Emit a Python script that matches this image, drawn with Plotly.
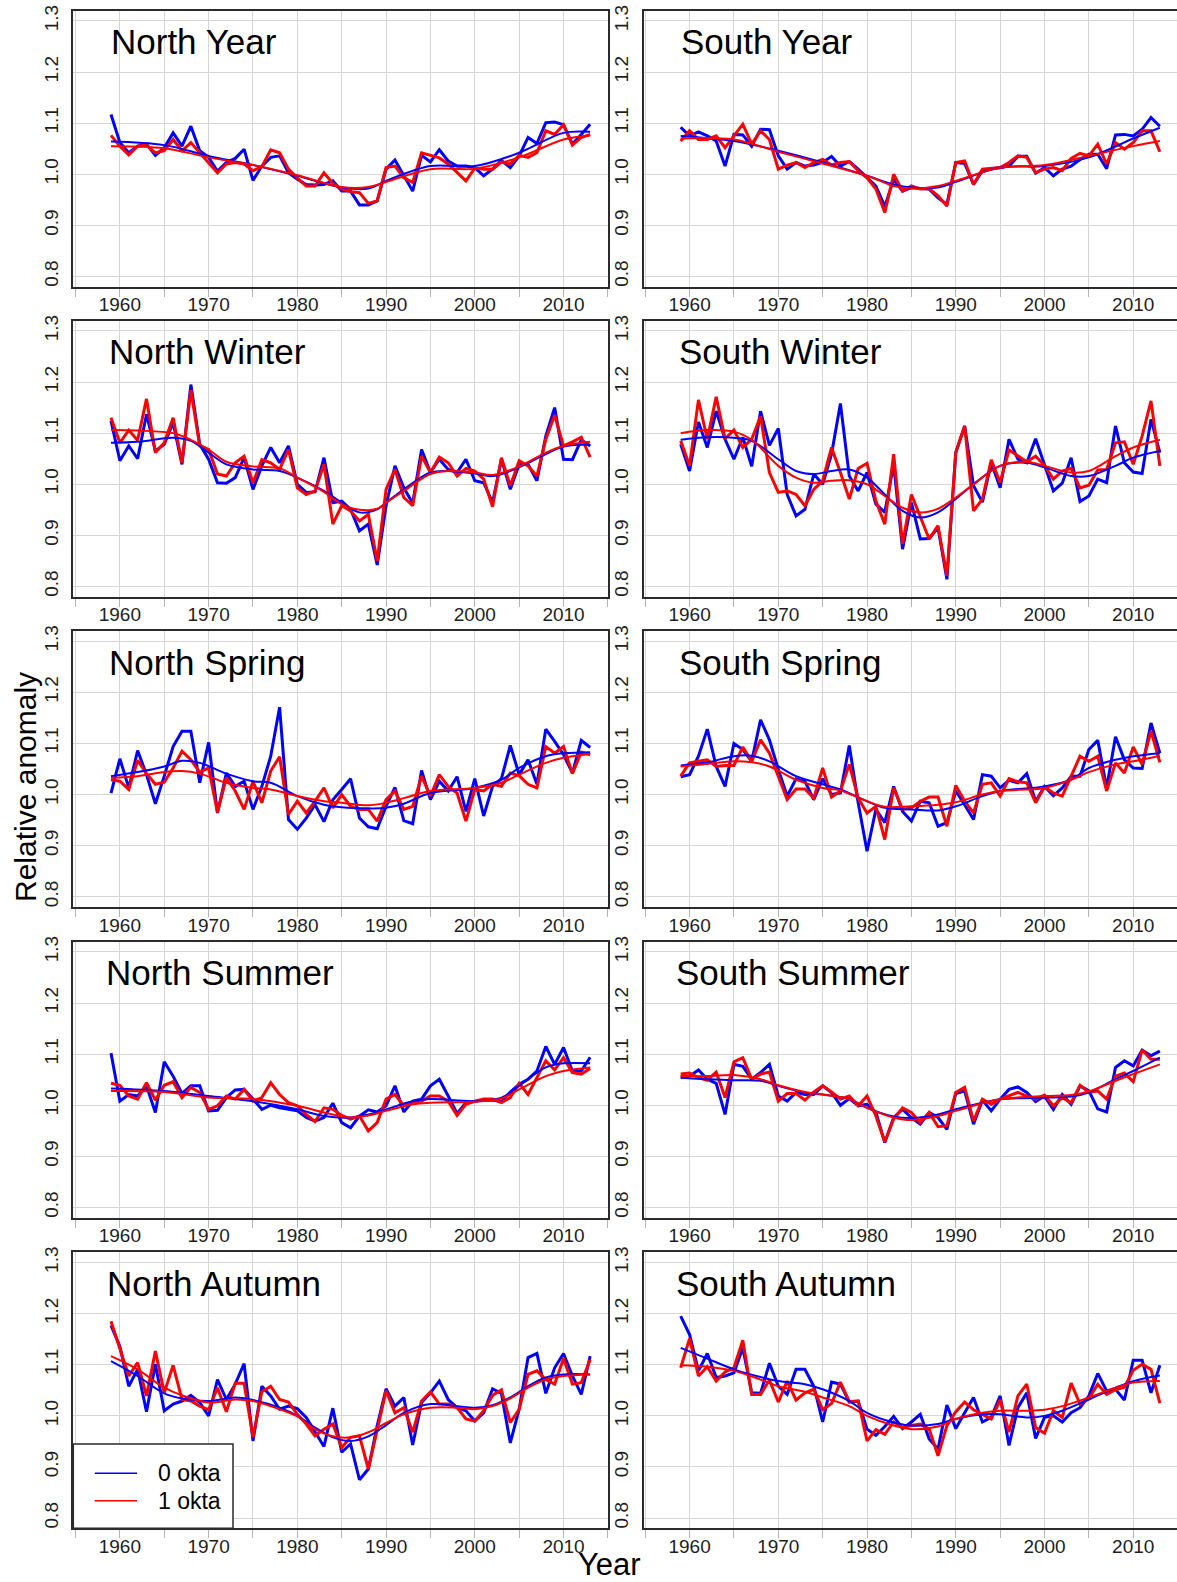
import plotly.graph_objects as go

W, H = 1177, 1582
FONT = "Liberation Sans, Arial, sans-serif"
BLUE = "#0000FF"
RED = "#FF0000"
GRID = "#d6d6d6"
TICK = "#b4b4b4"
FRAME = "#2b2b2b"

years = list(range(1959, 2014))
series_names = ["0 okta", "1 okta"]

# ---- North Year ----
ny_0 = [1.117, 1.062, 1.042, 1.055, 1.059, 1.037, 1.052, 1.081, 1.055, 1.094,
        1.046, 1.033, 1.006, 1.023, 1.031, 1.049, 0.988, 1.016, 1.033, 1.036,
        1.003, 0.990, 0.980, 0.979, 0.980, 0.987, 0.967, 0.967, 0.940, 0.940,
        0.948, 1.010, 1.028, 0.998, 0.967, 1.037, 1.024, 1.048, 1.026, 1.016,
        1.016, 1.013, 0.997, 1.010, 1.027, 1.013, 1.036, 1.072, 1.060, 1.101,
        1.102, 1.097, 1.059, 1.078, 1.098]
ny_1 = [1.076, 1.055, 1.038, 1.055, 1.057, 1.042, 1.046, 1.068, 1.046, 1.062,
        1.042, 1.023, 1.003, 1.020, 1.023, 1.020, 1.007, 1.015, 1.048, 1.042,
        1.010, 0.993, 0.977, 0.977, 1.003, 0.982, 0.971, 0.966, 0.964, 0.943,
        0.948, 1.013, 1.016, 0.993, 0.984, 1.042, 1.037, 1.032, 1.020, 1.003,
        0.987, 1.012, 1.010, 1.010, 1.024, 1.020, 1.037, 1.033, 1.042, 1.085,
        1.078, 1.097, 1.057, 1.072, 1.078]
ny_fit_years = [1959, 1965, 1970, 1975, 1980, 1985, 1988, 1990, 1995, 2000, 2005, 2010, 2013]
ny_fit_0 = [1.064, 1.057, 1.036, 1.018, 0.997, 0.974, 0.972, 0.987, 1.016, 1.016, 1.042, 1.081, 1.083]
ny_fit_1 = [1.055, 1.051, 1.033, 1.018, 0.998, 0.975, 0.975, 0.985, 1.010, 1.011, 1.033, 1.068, 1.076]

# ---- South Year ----
sy_0 = [1.092, 1.075, 1.083, 1.075, 1.065, 1.016, 1.078, 1.077, 1.055, 1.088,
        1.087, 1.036, 1.010, 1.023, 1.016, 1.018, 1.023, 1.035, 1.016, 1.025,
        1.010, 0.993, 0.977, 0.937, 0.990, 0.967, 0.974, 0.972, 0.971, 0.954,
        0.941, 1.023, 1.021, 0.980, 1.007, 1.010, 1.013, 1.016, 1.035, 1.035,
        1.002, 1.013, 0.997, 1.010, 1.016, 1.029, 1.039, 1.039, 1.011, 1.077,
        1.078, 1.075, 1.088, 1.111, 1.094]
sy_1 = [1.065, 1.085, 1.068, 1.068, 1.075, 1.052, 1.075, 1.098, 1.059, 1.085,
        1.068, 1.010, 1.018, 1.023, 1.013, 1.023, 1.029, 1.018, 1.023, 1.025,
        1.007, 0.993, 0.971, 0.925, 1.000, 0.967, 0.977, 0.971, 0.972, 0.958,
        0.938, 1.023, 1.026, 0.980, 1.010, 1.011, 1.013, 1.023, 1.036, 1.033,
        1.003, 1.010, 1.013, 1.007, 1.031, 1.041, 1.036, 1.059, 1.020, 1.062,
        1.049, 1.062, 1.085, 1.085, 1.044]
sy_fit_years = [1959, 1965, 1970, 1975, 1980, 1983, 1985, 1988, 1990, 1995, 2000, 2005, 2010, 2013]
sy_fit_0 = [1.075, 1.065, 1.046, 1.023, 0.997, 0.980, 0.974, 0.974, 0.985, 1.013, 1.016, 1.033, 1.070, 1.091]
sy_fit_1 = [1.070, 1.068, 1.044, 1.021, 0.997, 0.977, 0.972, 0.977, 0.987, 1.013, 1.018, 1.036, 1.055, 1.065]

# ---- North Winter ----
nw_0 = [1.124, 1.046, 1.075, 1.050, 1.137, 1.065, 1.078, 1.120, 1.039, 1.195,
        1.078, 1.049, 1.003, 1.002, 1.013, 1.052, 0.990, 1.036, 1.072, 1.042,
        1.075, 1.000, 0.984, 0.985, 1.052, 0.964, 0.967, 0.951, 0.909, 0.922,
        0.842, 0.958, 1.036, 0.993, 0.963, 1.068, 1.023, 1.049, 1.029, 1.023,
        1.049, 1.007, 1.003, 0.964, 1.049, 0.990, 1.039, 1.039, 1.007, 1.094,
        1.150, 1.049, 1.048, 1.087, 1.075]
nw_1 = [1.130, 1.081, 1.106, 1.086, 1.167, 1.062, 1.081, 1.130, 1.042, 1.184,
        1.075, 1.068, 1.020, 1.016, 1.042, 1.055, 1.003, 1.048, 1.042, 1.029,
        1.068, 0.993, 0.980, 0.987, 1.039, 0.922, 0.958, 0.948, 0.928, 0.941,
        0.850, 0.990, 1.029, 0.974, 0.958, 1.055, 1.023, 1.053, 1.042, 1.016,
        1.031, 1.026, 1.010, 0.956, 1.052, 0.997, 1.046, 1.036, 1.016, 1.088,
        1.135, 1.075, 1.083, 1.092, 1.053]
nw_fit_years = [1959, 1962, 1966, 1968, 1970, 1972, 1975, 1978, 1980, 1983, 1985, 1987,
                1989, 1990, 1992, 1995, 1997, 2000, 2002, 2005, 2008, 2010, 2013]
nw_fit_0 = [1.081, 1.083, 1.091, 1.085, 1.062, 1.039, 1.029, 1.026, 1.013, 0.987, 0.964, 0.945,
            0.951, 0.964, 0.990, 1.023, 1.026, 1.021, 1.016, 1.033, 1.059, 1.074, 1.078]
nw_fit_1 = [1.106, 1.105, 1.100, 1.087, 1.068, 1.044, 1.035, 1.031, 1.013, 0.985, 0.961, 0.950,
            0.952, 0.964, 0.987, 1.020, 1.026, 1.023, 1.018, 1.035, 1.062, 1.075, 1.083]

# ---- South Winter ----
sw_0 = [1.078, 1.026, 1.122, 1.072, 1.143, 1.088, 1.049, 1.092, 1.035, 1.143,
        1.076, 1.109, 0.980, 0.938, 0.951, 1.020, 1.000, 1.059, 1.158, 1.016,
        0.987, 1.023, 0.961, 0.945, 1.039, 0.873, 0.964, 0.893, 0.894, 0.915,
        0.814, 1.062, 1.114, 0.997, 0.965, 1.042, 0.993, 1.088, 1.049, 1.042,
        1.089, 1.036, 0.987, 1.002, 1.052, 0.966, 0.977, 1.010, 1.003, 1.114,
        1.042, 1.024, 1.021, 1.127, 1.062]
sw_1 = [1.085, 1.036, 1.165, 1.088, 1.171, 1.089, 1.106, 1.072, 1.088, 1.133,
        1.023, 0.984, 0.987, 0.980, 0.958, 0.990, 1.007, 1.072, 1.023, 0.971,
        1.031, 1.041, 0.967, 0.922, 1.059, 0.883, 0.980, 0.938, 0.893, 0.919,
        0.821, 1.062, 1.114, 0.948, 0.971, 1.048, 1.003, 1.067, 1.055, 1.044,
        1.055, 1.037, 1.010, 1.026, 1.031, 0.993, 0.998, 1.028, 1.029, 1.081,
        1.083, 1.039, 1.094, 1.163, 1.036]
sw_fit_years = [1959, 1962, 1965, 1967, 1970, 1972, 1974, 1976, 1978, 1980, 1982, 1984,
                1986, 1988, 1990, 1992, 1995, 1998, 2000, 2003, 2005, 2008, 2010, 2013]
sw_fit_0 = [1.087, 1.092, 1.091, 1.085, 1.049, 1.026, 1.020, 1.026, 1.029, 1.013, 0.980, 0.948,
            0.935, 0.945, 0.971, 1.000, 1.036, 1.042, 1.033, 1.016, 1.016, 1.036, 1.052, 1.065]
sw_fit_1 = [1.100, 1.106, 1.103, 1.087, 1.036, 1.013, 1.003, 1.007, 1.008, 1.000, 0.977, 0.954,
            0.945, 0.952, 0.974, 1.000, 1.036, 1.044, 1.036, 1.023, 1.026, 1.055, 1.072, 1.087]

# ---- North Spring ----
ns_0 = [1.003, 1.070, 1.013, 1.086, 1.039, 0.982, 1.036, 1.094, 1.124, 1.124,
        1.023, 1.102, 0.964, 1.042, 1.016, 1.026, 0.971, 1.016, 1.075, 1.171,
        0.951, 0.932, 0.954, 0.980, 0.947, 0.990, 1.010, 1.031, 0.954, 0.937,
        0.933, 0.977, 1.014, 0.949, 0.943, 1.047, 0.990, 1.026, 1.007, 1.035,
        0.967, 1.031, 0.958, 1.016, 1.031, 1.096, 1.039, 1.068, 1.020, 1.128,
        1.104, 1.078, 1.042, 1.106, 1.092]
ns_1 = [1.029, 1.026, 1.010, 1.067, 1.041, 1.020, 1.024, 1.052, 1.085, 1.068,
        1.044, 1.052, 0.965, 1.033, 1.007, 0.971, 1.026, 0.984, 1.046, 1.074,
        0.961, 0.987, 0.964, 0.987, 1.013, 0.974, 1.000, 0.977, 0.971, 0.971,
        0.948, 0.990, 1.007, 0.971, 0.977, 1.036, 0.997, 1.039, 1.016, 1.003,
        0.948, 1.010, 1.007, 1.020, 1.016, 1.042, 1.037, 1.020, 1.013, 1.094,
        1.081, 1.094, 1.041, 1.083, 1.078]
ns_fit_years = [1959, 1962, 1965, 1967, 1969, 1972, 1975, 1977, 1980, 1983, 1985,
                1988, 1990, 1992, 1995, 2000, 2003, 2005, 2008, 2010, 2013]
ns_fit_0 = [1.036, 1.044, 1.055, 1.066, 1.062, 1.041, 1.026, 1.023, 0.997, 0.980, 0.975,
            0.973, 0.974, 0.982, 1.003, 1.013, 1.029, 1.052, 1.075, 1.081, 1.083]
ns_fit_1 = [1.033, 1.036, 1.044, 1.046, 1.041, 1.023, 1.013, 1.010, 0.997, 0.987, 0.984,
            0.979, 0.984, 0.993, 1.007, 1.013, 1.023, 1.039, 1.062, 1.072, 1.080]

# ---- South Spring ----
ssp_0 = [1.035, 1.039, 1.075, 1.128, 1.055, 1.016, 1.100, 1.088, 1.065, 1.146,
         1.107, 1.049, 0.997, 1.031, 1.026, 0.990, 1.031, 1.000, 1.003, 1.096,
         0.984, 0.889, 0.971, 0.945, 1.016, 0.967, 0.948, 0.987, 0.984, 0.938,
         0.945, 1.007, 0.980, 0.951, 1.039, 1.036, 1.013, 1.028, 1.023, 1.041,
         0.987, 1.016, 0.998, 1.013, 1.036, 1.036, 1.088, 1.106, 1.013, 1.113,
         1.068, 1.052, 1.051, 1.140, 1.081]
ssp_1 = [1.036, 1.062, 1.065, 1.068, 1.055, 1.057, 1.057, 1.093, 1.065, 1.107,
         1.081, 1.036, 0.990, 1.011, 1.011, 0.993, 1.052, 0.995, 1.007, 1.059,
         0.993, 0.964, 0.977, 0.912, 1.013, 0.971, 0.974, 0.987, 0.995, 0.995,
         0.938, 1.018, 0.987, 0.964, 1.020, 1.023, 0.997, 1.031, 1.025, 1.023,
         0.984, 1.015, 1.003, 0.997, 1.036, 1.075, 1.065, 1.075, 1.007, 1.062,
         1.042, 1.093, 1.059, 1.124, 1.063]
ssp_fit_years = [1959, 1962, 1965, 1967, 1969, 1972, 1975, 1977, 1980, 1982, 1985,
                 1988, 1990, 1993, 1995, 2000, 2003, 2005, 2008, 2010, 2013]
ssp_fit_0 = [1.057, 1.063, 1.075, 1.076, 1.065, 1.036, 1.020, 1.010, 0.987, 0.974, 0.971,
             0.969, 0.977, 0.997, 1.007, 1.016, 1.029, 1.052, 1.068, 1.075, 1.081]
ssp_fit_1 = [1.055, 1.060, 1.065, 1.063, 1.055, 1.029, 1.013, 1.008, 0.987, 0.976, 0.977,
             0.980, 0.985, 1.000, 1.007, 1.013, 1.029, 1.044, 1.059, 1.065, 1.076]

# ---- North Summer ----
nsu_0 = [1.102, 1.008, 1.021, 1.018, 1.038, 0.986, 1.085, 1.057, 1.023, 1.038,
         1.038, 0.989, 0.990, 1.015, 1.030, 1.031, 1.012, 0.992, 1.000, 0.995,
         0.992, 0.989, 0.976, 0.969, 0.976, 1.004, 0.966, 0.956, 0.979, 0.991,
         0.987, 0.999, 1.038, 0.987, 1.008, 1.012, 1.038, 1.051, 1.018, 0.984,
         1.005, 1.008, 1.010, 1.010, 1.007, 1.026, 1.041, 1.051, 1.067, 1.115,
         1.080, 1.113, 1.067, 1.067, 1.094]
nsu_1 = [1.043, 1.039, 1.018, 1.012, 1.044, 1.010, 1.039, 1.046, 1.015, 1.035,
         1.025, 0.992, 0.999, 1.018, 1.012, 1.031, 1.008, 1.015, 1.044, 1.021,
         1.005, 0.999, 0.982, 0.968, 0.995, 0.992, 0.980, 0.973, 0.979, 0.950,
         0.966, 1.012, 1.021, 0.999, 1.007, 1.008, 1.018, 1.018, 1.008, 0.980,
         1.002, 1.008, 1.012, 1.012, 1.005, 1.015, 1.043, 1.021, 1.054, 1.087,
         1.069, 1.093, 1.064, 1.061, 1.072]
nsu_fit_years = [1959, 1965, 1970, 1975, 1980, 1983, 1986, 1988, 1990, 1993, 1995,
                 2000, 2003, 2005, 2008, 2010, 2013]
nsu_fit_0 = [1.033, 1.028, 1.018, 1.008, 0.992, 0.979, 0.976, 0.982, 0.992, 1.008, 1.012,
             1.008, 1.015, 1.038, 1.074, 1.082, 1.082]
nsu_fit_1 = [1.028, 1.026, 1.015, 1.012, 0.999, 0.986, 0.976, 0.980, 0.989, 1.002, 1.005,
             1.007, 1.013, 1.031, 1.057, 1.067, 1.074]

# ---- South Summer ----
ssu_0 = [1.055, 1.057, 1.069, 1.051, 1.043, 0.982, 1.080, 1.076, 1.051, 1.064,
         1.080, 1.018, 1.008, 1.025, 1.021, 1.021, 1.038, 1.025, 1.000, 1.013,
         0.999, 1.002, 0.986, 0.927, 0.976, 0.992, 0.976, 0.963, 0.986, 0.976,
         0.953, 1.023, 1.028, 0.963, 1.010, 0.989, 1.012, 1.031, 1.036, 1.025,
         1.007, 1.018, 0.992, 1.021, 1.002, 1.038, 1.028, 0.993, 0.987, 1.074,
         1.087, 1.077, 1.108, 1.097, 1.106]
ssu_1 = [1.061, 1.063, 1.054, 1.049, 1.065, 1.015, 1.085, 1.093, 1.051, 1.061,
         1.065, 1.008, 1.023, 1.023, 1.010, 1.026, 1.038, 1.026, 1.012, 1.018,
         0.999, 1.018, 0.979, 0.928, 0.973, 0.995, 0.986, 0.966, 0.986, 0.958,
         0.960, 1.025, 1.035, 0.969, 1.012, 1.002, 1.012, 1.018, 1.025, 1.018,
         1.012, 1.020, 0.999, 1.015, 1.005, 1.039, 1.025, 1.028, 1.012, 1.057,
         1.063, 1.046, 1.108, 1.090, 1.090]
ssu_fit_years = [1959, 1962, 1965, 1968, 1970, 1973, 1975, 1978, 1980, 1983, 1985,
                 1988, 1990, 1993, 1995, 2000, 2003, 2005, 2008, 2010, 2013]
ssu_fit_0 = [1.054, 1.051, 1.049, 1.048, 1.038, 1.025, 1.021, 1.012, 0.995, 0.978, 0.975,
             0.982, 0.992, 1.005, 1.012, 1.015, 1.017, 1.025, 1.051, 1.067, 1.093]
ssu_fit_1 = [1.057, 1.057, 1.059, 1.051, 1.039, 1.026, 1.021, 1.012, 0.995, 0.976, 0.971,
             0.979, 0.989, 1.004, 1.012, 1.018, 1.020, 1.027, 1.048, 1.061, 1.080]

# ---- North Autumn ----
na_0 = [1.177, 1.136, 1.058, 1.091, 1.008, 1.101, 1.010, 1.023, 1.029, 1.040,
        1.026, 1.000, 1.071, 1.032, 1.062, 1.102, 0.951, 1.058, 1.039, 1.013,
        1.019, 1.014, 0.997, 0.968, 0.940, 1.015, 0.929, 0.945, 0.875, 0.896,
        0.981, 1.053, 1.019, 1.036, 0.943, 1.026, 1.045, 1.068, 1.032, 1.016,
        1.010, 0.990, 1.006, 1.053, 1.044, 0.947, 1.013, 1.114, 1.122, 1.044,
        1.094, 1.122, 1.078, 1.042, 1.117]
na_1 = [1.185, 1.130, 1.078, 1.104, 1.039, 1.127, 1.045, 1.099, 1.032, 1.029,
        1.019, 1.012, 1.055, 1.008, 1.064, 1.064, 0.958, 1.047, 1.058, 1.032,
        1.027, 1.003, 0.984, 0.961, 0.974, 0.984, 0.938, 0.958, 0.961, 0.896,
        0.974, 1.049, 1.006, 1.016, 0.968, 1.029, 1.047, 1.023, 1.023, 1.016,
        0.994, 0.990, 1.010, 1.040, 1.051, 0.987, 1.013, 1.081, 1.088, 1.071,
        1.062, 1.112, 1.062, 1.065, 1.110]
na_fit_years = [1959, 1962, 1965, 1967, 1970, 1973, 1975, 1978, 1980, 1982, 1984, 1986,
                1988, 1990, 1992, 1995, 1998, 2000, 2002, 2004, 2006, 2008, 2010, 2013]
na_fit_0 = [1.107, 1.078, 1.044, 1.034, 1.029, 1.036, 1.031, 1.016, 1.000, 0.977, 0.958, 0.951,
            0.960, 0.982, 1.006, 1.023, 1.019, 1.016, 1.021, 1.036, 1.058, 1.075, 1.081, 1.081]
na_fit_1 = [1.117, 1.091, 1.055, 1.040, 1.026, 1.032, 1.029, 1.013, 0.999, 0.974, 0.960, 0.958,
            0.968, 0.986, 1.003, 1.016, 1.016, 1.013, 1.019, 1.034, 1.055, 1.071, 1.078, 1.081]

# ---- South Autumn ----
sa_0 = [1.195, 1.159, 1.088, 1.122, 1.075, 1.078, 1.084, 1.133, 1.045, 1.044,
        1.103, 1.058, 1.042, 1.091, 1.091, 1.058, 0.988, 1.066, 1.062, 1.027,
        1.029, 0.974, 0.962, 0.979, 0.999, 0.975, 0.988, 1.003, 0.955, 0.935,
        1.021, 0.975, 1.006, 1.036, 0.988, 0.997, 1.039, 0.942, 1.016, 1.045,
        0.956, 0.997, 1.000, 0.988, 1.006, 1.016, 1.039, 1.083, 1.049, 1.052,
        1.031, 1.109, 1.109, 1.045, 1.099]
sa_1 = [1.094, 1.151, 1.078, 1.096, 1.068, 1.086, 1.094, 1.148, 1.042, 1.042,
        1.070, 1.027, 1.068, 1.031, 1.045, 1.052, 1.012, 1.024, 1.066, 1.028,
        1.029, 0.951, 0.973, 0.964, 0.988, 0.977, 0.981, 0.984, 0.974, 0.922,
        0.981, 1.008, 1.027, 1.012, 1.003, 0.994, 1.031, 0.968, 1.039, 1.062,
        0.977, 0.966, 1.010, 0.997, 1.064, 1.023, 1.034, 1.062, 1.042, 1.051,
        1.056, 1.089, 1.101, 1.091, 1.025]
sa_fit_years = [1959, 1962, 1965, 1968, 1970, 1973, 1975, 1978, 1980, 1983, 1985,
                1988, 1990, 1993, 1995, 1998, 2000, 2002, 2005, 2008, 2010, 2013]
sa_fit_0 = [1.133, 1.112, 1.091, 1.076, 1.068, 1.062, 1.052, 1.029, 1.006, 0.987, 0.981,
            0.984, 0.994, 1.003, 1.003, 0.997, 1.000, 1.010, 1.032, 1.055, 1.068, 1.079]
sa_fit_1 = [1.099, 1.096, 1.088, 1.071, 1.058, 1.047, 1.036, 1.019, 1.000, 0.981, 0.974,
            0.979, 0.994, 1.006, 1.010, 1.010, 1.012, 1.019, 1.036, 1.055, 1.065, 1.068]

panels = [
    ("North Year", ny_0, ny_1, ny_fit_years, ny_fit_0, ny_fit_1),
    ("South Year", sy_0, sy_1, sy_fit_years, sy_fit_0, sy_fit_1),
    ("North Winter", nw_0, nw_1, nw_fit_years, nw_fit_0, nw_fit_1),
    ("South Winter", sw_0, sw_1, sw_fit_years, sw_fit_0, sw_fit_1),
    ("North Spring", ns_0, ns_1, ns_fit_years, ns_fit_0, ns_fit_1),
    ("South Spring", ssp_0, ssp_1, ssp_fit_years, ssp_fit_0, ssp_fit_1),
    ("North Summer", nsu_0, nsu_1, nsu_fit_years, nsu_fit_0, nsu_fit_1),
    ("South Summer", ssu_0, ssu_1, ssu_fit_years, ssu_fit_0, ssu_fit_1),
    ("North Autumn", na_0, na_1, na_fit_years, na_fit_0, na_fit_1),
    ("South Autumn", sa_0, sa_1, sa_fit_years, sa_fit_0, sa_fit_1),
]

# ---- panel geometry (pixels) ----
col_left = [73.3, 643.6]
col_right = [607.9, W]
col_range = [[1954.75, 2015.0], [1954.82, 2014.93]]
row_top = [10.7, 320.7, 631.0, 941.7, 1252.3]
panel_h = 276.0
title_x = [109, 679, 106.5, 676.5, 106.5, 676.5, 104, 673.5, 104.5, 674.5]


def px(x):
    return x / W


def py(y):
    return 1 - y / H


fig = go.Figure()
annotations = []
layout = {}

for i, (title, s0, s1, fy, f0, f1) in enumerate(panels):
    r, c = divmod(i, 2)
    k = i + 1
    sfx = "" if k == 1 else str(k)
    xref, yref = "x" + sfx, "y" + sfx

    fig.add_trace(go.Scatter(x=years, y=s0, mode="lines", xaxis=xref, yaxis=yref,
                             line=dict(color=BLUE, width=3), showlegend=False,
                             name=series_names[0]))
    fig.add_trace(go.Scatter(x=years, y=s1, mode="lines", xaxis=xref, yaxis=yref,
                             line=dict(color=RED, width=3), showlegend=False,
                             name=series_names[1]))
    fig.add_trace(go.Scatter(x=fy, y=f0, mode="lines", xaxis=xref, yaxis=yref,
                             line=dict(color=BLUE, width=2, shape="spline", smoothing=1.0),
                             showlegend=False, name=series_names[0] + " trend"))
    fig.add_trace(go.Scatter(x=fy, y=f1, mode="lines", xaxis=xref, yaxis=yref,
                             line=dict(color=RED, width=2, shape="spline", smoothing=1.0),
                             showlegend=False, name=series_names[1] + " trend"))

    top = row_top[r]
    layout["xaxis" + sfx] = dict(
        domain=[px(col_left[c]), px(col_right[c])], range=col_range[c], anchor=yref,
        automargin=False,
        showline=True, mirror=True, linecolor=FRAME, linewidth=1.6,
        showgrid=True, gridcolor=GRID, gridwidth=1.4, zeroline=False,
        tick0=1960, dtick=10, ticks="outside", ticklen=8, tickwidth=1, tickcolor=TICK,
        ticklabelstandoff=-8,
        tickfont=dict(family=FONT, size=19, color="#1e1e1e"),
        minor=dict(dtick=5, showgrid=True, gridcolor=GRID, gridwidth=1.4,
                   ticks="outside", ticklen=8, tickwidth=1, tickcolor=TICK),
    )
    layout["yaxis" + sfx] = dict(
        domain=[py(top + panel_h), py(top)], range=[0.78, 1.32], anchor=xref,
        automargin=False,
        showline=True, mirror=True, linecolor=FRAME, linewidth=1.6,
        showgrid=True, gridcolor=GRID, gridwidth=1.4, zeroline=False,
        tick0=0.8, dtick=0.1, tickformat=".1f", tickangle=-90, ticks="",
        ticklabelstandoff=6,
        tickfont=dict(family=FONT, size=19, color="#1e1e1e"),
    )
    annotations.append(dict(
        text=title, xref="paper", yref="paper", x=px(title_x[i]), y=py(top + 31),
        xanchor="left", yanchor="middle", showarrow=False,
        font=dict(family=FONT, size=35, color="black"),
    ))

# axis titles
annotations.append(dict(text="Relative anomaly", xref="paper", yref="paper",
                        x=px(25), y=py(787), textangle=-90, showarrow=False,
                        xanchor="center", yanchor="middle",
                        font=dict(family=FONT, size=30, color="black")))
annotations.append(dict(text="Year", xref="paper", yref="paper",
                        x=px(609), y=py(1564), showarrow=False, borderpad=0,
                        xanchor="center", yanchor="middle",
                        font=dict(family=FONT, size=31, color="black")))

# legend box inside the North Autumn panel
leg_left, leg_right, leg_top, leg_bottom = 73.3, 233.0, 1444.0, row_top[4] + panel_h
shapes = [dict(type="rect", xref="paper", yref="paper",
               x0=px(leg_left), x1=px(leg_right), y0=py(leg_bottom), y1=py(leg_top),
               line=dict(color=FRAME, width=1.5), fillcolor="white", layer="above")]
for name, color, yy in [(series_names[0], BLUE, 1473.3), (series_names[1], RED, 1500.7)]:
    shapes.append(dict(type="line", xref="paper", yref="paper",
                       x0=px(94.8), x1=px(137), y0=py(yy), y1=py(yy),
                       line=dict(color=color, width=1.5), layer="above"))
    annotations.append(dict(text=name, xref="paper", yref="paper", x=px(156), y=py(yy),
                            xanchor="left", yanchor="middle", showarrow=False,
                            font=dict(family=FONT, size=23, color="black")))

fig.update_layout(
    width=W, height=H, margin=dict(l=0, r=0, t=0, b=0, autoexpand=False),
    paper_bgcolor="white", plot_bgcolor="white",
    showlegend=False, annotations=annotations, shapes=shapes,
    font=dict(family=FONT),
    **layout,
)

fig.write_html("out.html")
